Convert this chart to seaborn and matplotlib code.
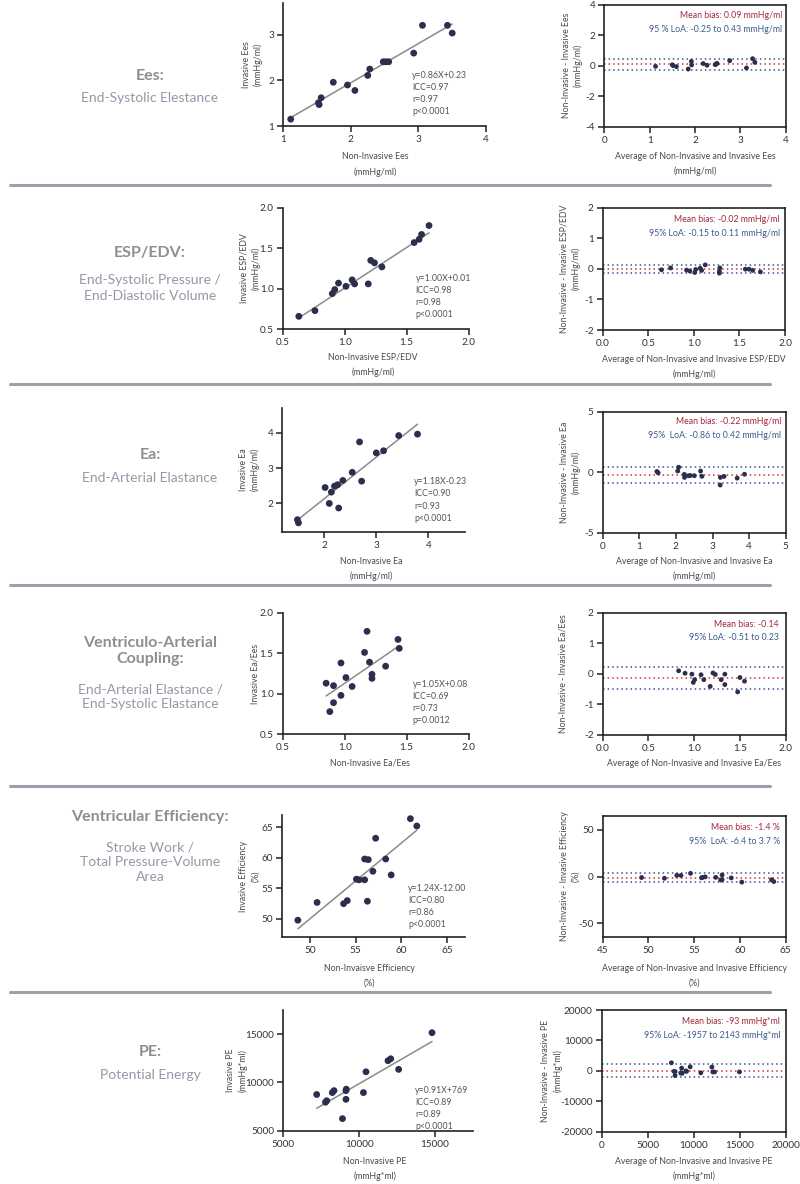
import numpy as np
import pandas as pd
import seaborn as sns
import matplotlib.pyplot as plt
from matplotlib.lines import Line2D
from matplotlib.ticker import FormatStrFormatter

sns.set_theme(style="white")
plt.rcParams['font.family'] = ['Lato', 'DejaVu Sans']
plt.rcParams['axes.unicode_minus'] = False

# ------------------------- data -------------------------
ees_noninv = [1.11, 1.52, 1.53, 1.56, 1.74, 1.95, 2.06, 2.25, 2.28, 2.48, 2.52, 2.56, 2.93, 3.06, 3.43, 3.50]
ees_inv    = [1.15, 1.51, 1.47, 1.62, 1.96, 1.90, 1.78, 2.11, 2.25, 2.41, 2.41, 2.41, 2.60, 3.21, 3.21, 3.04]

espedv_noninv = [0.63, 0.76, 0.90, 0.92, 0.95, 1.01, 1.06, 1.08, 1.19, 1.21, 1.24, 1.30, 1.56, 1.60, 1.62, 1.68]
espedv_inv    = [0.66, 0.73, 0.94, 0.99, 1.07, 1.03, 1.11, 1.06, 1.06, 1.35, 1.32, 1.27, 1.57, 1.61, 1.67, 1.78]

ea_noninv = [1.49, 1.51, 2.02, 2.10, 2.14, 2.20, 2.26, 2.28, 2.36, 2.54, 2.68, 2.72, 3.00, 3.14, 3.43, 3.79]
ea_inv    = [1.54, 1.45, 2.45, 2.00, 2.32, 2.49, 2.53, 1.87, 2.65, 2.88, 3.74, 2.63, 3.43, 3.49, 3.92, 3.96]

vac_noninv = [0.85, 0.91, 0.91, 0.88, 0.97, 0.97, 1.01, 1.06, 1.16, 1.18, 1.20, 1.22, 1.22, 1.33, 1.43, 1.44]
vac_inv    = [1.13, 1.10, 0.89, 0.78, 1.38, 0.98, 1.20, 1.09, 1.51, 1.77, 1.39, 1.24, 1.19, 1.34, 1.67, 1.56]

eff_noninv = [48.7, 50.8, 53.7, 54.1, 55.1, 55.4, 56.0, 56.3, 56.0, 56.4, 56.9, 57.2, 58.3, 58.9, 61.0, 61.7]
eff_inv    = [49.8, 52.7, 52.5, 53.0, 56.5, 56.4, 56.4, 52.9, 59.8, 59.7, 57.8, 63.2, 59.8, 57.2, 66.4, 65.2]

pe_noninv = [7200, 7780, 7860, 8230, 8340, 8900, 9130, 9150, 9130, 10280, 10450, 11900, 12080, 12600, 14800]
pe_inv    = [8750, 7950, 8100, 8950, 9150, 6250, 9150, 9300, 8250, 8950, 11100, 12250, 12450, 11350, 15150]

fit_slope     = [0.86, 1.00, 1.18, 1.05, 1.24, 0.91]
fit_intercept = [0.23, 0.01, -0.23, 0.08, -12.00, 769]
eq_text  = ["y=0.86X+0.23", "y=1.00X+0.01", "y=1.18X-0.23", "y=1.05X+0.08", "y=1.24X-12.00", "y=0.91X+769"]
icc_text = ["0.97", "0.98", "0.90", "0.69", "0.80", "0.89"]
r_text   = ["0.97", "0.98", "0.93", "0.73", "0.86", "0.89"]
p_text   = ["p<0.0001", "p<0.0001", "p<0.0001", "p=0.0012", "p<0.0001", "p<0.0001"]

bias     = [0.09, -0.02, -0.22, -0.14, -1.4, -93]
loa_low  = [-0.25, -0.15, -0.86, -0.51, -6.4, -1957]
loa_high = [0.43, 0.11, 0.42, 0.23, 3.7, 2143]
bias_text = ["Mean bias: 0.09 mmHg/ml", "Mean bias: -0.02 mmHg/ml", "Mean bias: -0.22 mmHg/ml",
             "Mean bias: -0.14", "Mean bias: -1.4 %", "Mean bias: -93 mmHg*ml"]
loa_text = ["95 % LoA: -0.25 to 0.43 mmHg/ml", "95% LoA: -0.15 to 0.11 mmHg/ml",
            "95%  LoA: -0.86 to 0.42 mmHg/ml", "95% LoA: -0.51 to 0.23",
            "95%  LoA: -6.4 to 3.7 %", "95% LoA: -1957 to 2143 mmHg*ml"]

row_titles = ["Ees:", "ESP/EDV:", "Ea:", "Ventriculo-Arterial\nCoupling:", "Ventricular Efficiency:", "PE:"]
row_subtitles = ["End-Systolic Elestance", "End-Systolic Pressure /\nEnd-Diastolic Volume",
                 "End-Arterial Elastance", "End-Arterial Elastance /\nEnd-Systolic Elastance",
                 "Stroke Work /\nTotal Pressure-Volume\nArea", "Potential Energy"]

sc_ylabels = ["Invasive Ees\n(mmHg/ml)", "Invasive ESP/EDV\n(mmHg/ml)", "Invasive Ea\n(mmHg/ml)",
              "Invasive Ea/Ees", "Invasive Efficiency\n(%)", "Invasive PE\n(mmHg*ml)"]
sc_xlabels = ["Non-Invasive Ees\n(mmHg/ml)", "Non-Invasive ESP/EDV\n(mmHg/ml)", "Non-Invasive Ea\n(mmHg/ml)",
              "Non-Invasive Ea/Ees", "Non-Invaisve Efficiency\n(%)", "Non-Invasive PE\n(mmHg*ml)"]
ba_ylabels = ["Non-Invasive - Invasive Ees\n(mmHg/ml)", "Non-Invasive - Invasive ESP/EDV\n(mmHg/ml)",
              "Non-Invasive - Invasive Ea\n(mmHg/ml)", "Non-Invasive - Invasive Ea/Ees",
              "Non-Invasive - Invasive Efficiency\n(%)", "Non-Invasive - Invasive PE\n(mmHg*ml)"]
ba_xlabels = ["Average of Non-Invasive and Invasive Ees\n(mmHg/ml)",
              "Average of Non-Invasive and Invasive ESP/EDV\n(mmHg/ml)",
              "Average of Non-Invasive and Invasive Ea\n(mmHg/ml)",
              "Average of Non-Invasive and Invasive Ea/Ees",
              "Average of Non-Invasive and Invasive Efficiency\n(%)",
              "Average of Non-Invasive and Invasive PE\n(mmHg*ml)"]

sc_xticks = [[1, 2, 3, 4], [0.5, 1.0, 1.5, 2.0], [2, 3, 4], [0.5, 1.0, 1.5, 2.0], [50, 55, 60, 65], [5000, 10000, 15000]]
sc_yticks = [[1, 2, 3], [0.5, 1.0, 1.5, 2.0], [2, 3, 4], [0.5, 1.0, 1.5, 2.0], [50, 55, 60, 65], [5000, 10000, 15000]]
ba_xticks = [[0, 1, 2, 3, 4], [0.0, 0.5, 1.0, 1.5, 2.0], [0, 1, 2, 3, 4, 5], [0.0, 0.5, 1.0, 1.5, 2.0],
             [45, 50, 55, 60, 65], [0, 5000, 10000, 15000, 20000]]
ba_yticks = [[-4, -2, 0, 2, 4], [-2, -1, 0, 1, 2], [-5, 0, 5], [-2, -1, 0, 1, 2], [-50, 0, 50],
             [-20000, -10000, 0, 10000, 20000]]

noninv_sets = [ees_noninv, espedv_noninv, ea_noninv, vac_noninv, eff_noninv, pe_noninv]
inv_sets = [ees_inv, espedv_inv, ea_inv, vac_inv, eff_inv, pe_inv]

# ------------------------- layout (pixels) -------------------------
W, H = 800, 1184
sc_box = [(283.3, 3, 486, 126), (282.7, 207.7, 468.7, 329.3), (282.3, 408, 465, 531.7),
          (282.7, 612.7, 468.7, 734.3), (282.3, 815, 465.3, 937.3), (283.3, 1010, 473, 1130.7)]
sc_lims = [((1, 4), (1, 3.7)), ((0.5, 2.0), (0.5, 2.0)), ((1.2, 4.7), (1.2, 4.7)),
           ((0.5, 2.0), (0.5, 2.0)), ((47, 67), (47, 67)), ((5000, 17500), (5000, 17500))]
ba_box = [(604.3, 4.7, 785.7, 126.7), (602.7, 207.7, 785, 330), (602.7, 411.7, 785.7, 532.7),
          (602.7, 612.7, 785.7, 735), (602.7, 815.7, 785.7, 937.3), (601.7, 1010, 785.7, 1131.7)]
ba_lims = [((0, 4), (-4, 4)), ((0, 2), (-2, 2)), ((0, 5), (-5, 5)), ((0, 2), (-2, 2)),
           ((45, 65), (-65, 65)), ((0, 20000), (-20000, 20000))]
dec = [False, True, False, True, False, False]

sc_ylab_x = [252.5, 250, 249.5, 255, 249.7, 237]
sc_xlab = [(375, 164.5), (373, 365), (371, 569.3), (370, 763), (369, 975.5), (375, 1169)]
ba_ylab_x = [572.5, 570, 570.5, 563.3, 570.3, 552]
ba_xlab_y = [164, 366.7, 569, 763, 975.5, 1169]
stats_pos = [(412, 93.5), (415.7, 296.7), (414, 500), (412.7, 702.7), (408.3, 906.6), (415, 1108.6)]
ba_text_pos = [(782, 16, 29), (780, 219, 233), (781, 421.7, 436), (779, 624.3, 637.3),
               (780, 827.7, 841), (780, 1021.7, 1035.7)]
title_pos = [(76, 98), (253, 288), (455, 478), (651, 697), (817, 862), (1052, 1075)]
separators = [185, 384, 585, 786, 992]

DOT = "#2b2f4d"
AX = "#222222"
LAB = "#4a4a4a"

fig = plt.figure(figsize=(W / 100, H / 100), dpi=100)


def fx(x):
    return x / W


def fy(y):
    return 1 - y / H


def add_ax(box):
    l, t, r, b = box
    return fig.add_axes([l / W, 1 - b / H, (r - l) / W, (b - t) / H])


def style_axis(ax, full):
    for side in ["top", "right", "left", "bottom"]:
        ax.spines[side].set_visible(full or side in ("left", "bottom"))
        ax.spines[side].set_color(AX)
        ax.spines[side].set_linewidth(1.2)
    ax.tick_params(direction="out", length=4, width=1.1, color=AX, labelsize=7.2,
                   labelcolor="#333333", pad=2.5, left=True, bottom=True)
    ax.grid(False)
    ax.set_xlabel("")
    ax.set_ylabel("")


for i in range(6):
    x = np.array(noninv_sets[i], dtype=float)
    y = np.array(inv_sets[i], dtype=float)

    # ---- scatter with regression ----
    ax = add_ax(sc_box[i])
    xx = np.array([x.min(), x.max()])
    sns.lineplot(x=xx, y=fit_slope[i] * xx + fit_intercept[i], color="#8a8a8a", lw=1.1, ax=ax, zorder=1)
    sns.scatterplot(x=x, y=y, color=DOT, s=24, edgecolor="none", ax=ax, zorder=3, clip_on=False)
    ax.set_xlim(*sc_lims[i][0])
    ax.set_ylim(*sc_lims[i][1])
    ax.set_xticks(sc_xticks[i])
    ax.set_yticks(sc_yticks[i])
    style_axis(ax, False)
    if dec[i]:
        ax.xaxis.set_major_formatter(FormatStrFormatter('%.1f'))
        ax.yaxis.set_major_formatter(FormatStrFormatter('%.1f'))
    l, t, r, b = sc_box[i]
    fig.text(fx(sc_ylab_x[i]), fy((t + b) / 2), sc_ylabels[i], rotation=90, ha="center", va="center",
             fontsize=6.3, color=LAB, linespacing=1.35)
    fig.text(fx(sc_xlab[i][0]), fy(sc_xlab[i][1]), sc_xlabels[i], ha="center", va="center",
             fontsize=6.3, color=LAB, linespacing=1.75)
    stats = "\n".join([eq_text[i], "ICC=" + icc_text[i], "r=" + r_text[i], p_text[i]])
    fig.text(fx(stats_pos[i][0]), fy(stats_pos[i][1]), stats, ha="left", va="center",
             fontsize=6.3, color="#555555", linespacing=1.45)

    # ---- Bland-Altman ----
    bx = add_ax(ba_box[i])
    avg = (x + y) / 2
    diff = x - y
    for val, col in [(loa_high[i], "#3b5598"), (bias[i], "#d0303c"), (loa_low[i], "#3b5598")]:
        bx.axhline(val, color=col, lw=1.1, ls=(0, (1, 2)), zorder=1)
    sns.scatterplot(x=avg, y=diff, color=DOT, s=12, edgecolor="none", ax=bx, zorder=3)
    bx.set_xlim(*ba_lims[i][0])
    bx.set_ylim(*ba_lims[i][1])
    bx.set_xticks(ba_xticks[i])
    bx.set_yticks(ba_yticks[i])
    style_axis(bx, True)
    if dec[i]:
        bx.xaxis.set_major_formatter(FormatStrFormatter('%.1f'))
    l, t, r, b = ba_box[i]
    fig.text(fx(ba_ylab_x[i]), fy((t + b) / 2), ba_ylabels[i], rotation=90, ha="center", va="center",
             fontsize=6.3, color=LAB, linespacing=1.35)
    fig.text(fx((l + r) / 2), fy(ba_xlab_y[i]), ba_xlabels[i], ha="center", va="center",
             fontsize=6.3, color=LAB, linespacing=1.75)
    tx, ty1, ty2 = ba_text_pos[i]
    fig.text(fx(tx), fy(ty1), bias_text[i], ha="right", va="center", fontsize=6.3, color="#a3283c")
    fig.text(fx(tx), fy(ty2), loa_text[i], ha="right", va="center", fontsize=6.3, color="#3e5a8e")

    # ---- row titles ----
    ty, sy = title_pos[i]
    fig.text(fx(150), fy(ty), row_titles[i], ha="center", va="center", fontsize=11.5,
             fontweight="bold", color="#8e8e8e", linespacing=1.2)
    fig.text(fx(150), fy(sy), row_subtitles[i], ha="center", va="center", fontsize=10,
             color="#9797a8", linespacing=1.3)

for yy in separators:
    fig.add_artist(Line2D([fx(10), fx(770)], [fy(yy), fy(yy)], color="#9f9fab", lw=2.2))

fig.savefig("out.png", dpi=100)
